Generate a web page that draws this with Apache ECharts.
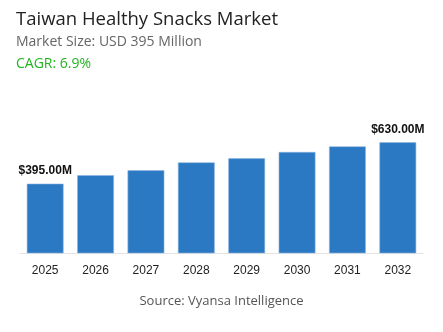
<!DOCTYPE html>
<html>
<head>
<meta charset="utf-8">
<script src="https://cdn.jsdelivr.net/npm/echarts@6/dist/echarts.min.js"></script>
<style>
html,body{margin:0;padding:0;background:#fff;}
#c{width:443px;height:332px;}
</style>
</head>
<body>
<div id="c"></div>
<script>
const categories = ['2025','2026','2027','2028','2029','2030','2031','2032'];
const values = [395, 443, 471, 516, 539, 575, 607, 630];
const labelIndices = [0, 7];
const titleText = 'Taiwan Healthy Snacks Market';
const subtitleText = 'Market Size: USD 395 Million';
const cagrText = 'CAGR: 6.9%';
const sourceText = 'Source: Vyansa Intelligence';

const chart = echarts.init(document.getElementById('c'), null, {renderer:'canvas'});
const sans = '"Open Sans", "Noto Sans", sans-serif';
chart.setOption({
  animation:false,
  backgroundColor:'#fff',
  graphic:[
    {type:'text', left:16, top:10.5, style:{text:titleText, font:'500 18.5px '+sans, fill:'#222'}},
    {type:'text', left:16, top:35, style:{text:subtitleText, font:'14px '+sans, fill:'#666'}},
    {type:'text', left:16, top:57.5, style:{text:cagrText, font:'14px '+sans, fill:'#22b422'}},
    {type:'text', left:'center', top:295, style:{text:sourceText, font:'13px '+sans, fill:'#555'}}
  ],
  grid:{left:20, right:20, top:100, bottom:78.7, containLabel:false},
  xAxis:{
    type:'category', data:categories,
    axisLine:{show:true, lineStyle:{color:'#e3e3e3', width:1}},
    axisTick:{show:false},
    axisLabel:{color:'#222', fontSize:12, fontFamily:'"Liberation Sans", Arial, sans-serif', margin:11}
  },
  yAxis:{type:'value', min:0, max:870, show:false, splitLine:{show:false}},
  series:[{
    type:'bar', data:values.map((v,i)=>({value:v, label:{show:labelIndices.includes(i)}})),
    barCategoryGap:'27%',
    itemStyle:{color:'#2b79c2', borderColor:'#8db6e0', borderWidth:0.6},
    label:{position:'top', distance:7, color:'#111', fontWeight:'bold', fontSize:12,
      fontFamily:'"Liberation Sans", Arial, sans-serif',
      formatter:p=>'$'+p.value.toFixed(2)+'M'}
  }]
});
</script>
</body>
</html>
